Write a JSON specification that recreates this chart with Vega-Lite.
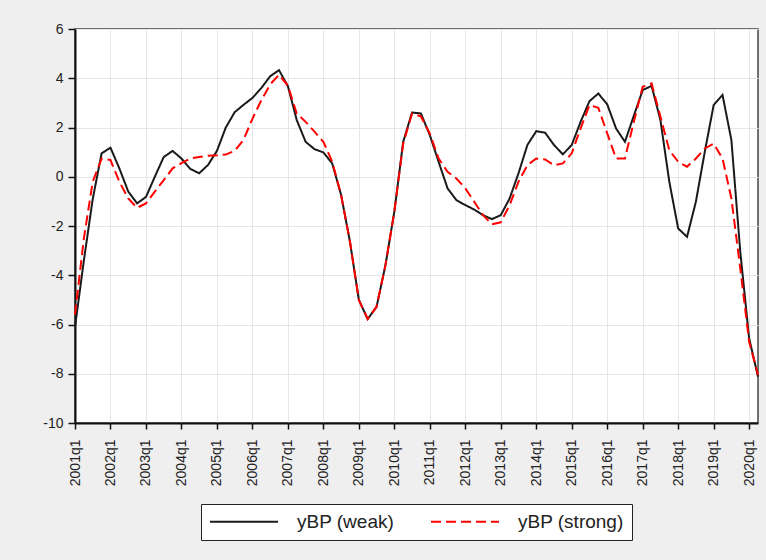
{
  "$schema": "https://vega.github.io/schema/vega-lite/v6.json",
  "width": 683,
  "height": 394,
  "autosize": {"type": "none"},
  "padding": {"left": 75, "top": 29, "right": 8, "bottom": 137},
  "background": "#efefef",
  "data": {
    "values": [
      {"q": "2001q1", "weak": -6.1, "strong": -5.6},
      {"q": "2001q2", "weak": -3.4, "strong": -2.5},
      {"q": "2001q3", "weak": -0.9, "strong": -0.2},
      {"q": "2001q4", "weak": 0.95, "strong": 0.74},
      {"q": "2002q1", "weak": 1.18, "strong": 0.68},
      {"q": "2002q2", "weak": 0.34, "strong": -0.2},
      {"q": "2002q3", "weak": -0.6, "strong": -0.88},
      {"q": "2002q4", "weak": -1.08, "strong": -1.26},
      {"q": "2003q1", "weak": -0.82, "strong": -1.08},
      {"q": "2003q2", "weak": 0.0, "strong": -0.6},
      {"q": "2003q3", "weak": 0.8, "strong": -0.14},
      {"q": "2003q4", "weak": 1.05, "strong": 0.34},
      {"q": "2004q1", "weak": 0.74, "strong": 0.55},
      {"q": "2004q2", "weak": 0.32, "strong": 0.74},
      {"q": "2004q3", "weak": 0.14, "strong": 0.8},
      {"q": "2004q4", "weak": 0.48, "strong": 0.85},
      {"q": "2005q1", "weak": 1.05, "strong": 0.87},
      {"q": "2005q2", "weak": 2.0, "strong": 0.9},
      {"q": "2005q3", "weak": 2.62, "strong": 1.05},
      {"q": "2005q4", "weak": 2.92, "strong": 1.5},
      {"q": "2006q1", "weak": 3.2, "strong": 2.35},
      {"q": "2006q2", "weak": 3.6, "strong": 3.1},
      {"q": "2006q3", "weak": 4.08, "strong": 3.75},
      {"q": "2006q4", "weak": 4.33, "strong": 4.14},
      {"q": "2007q1", "weak": 3.68, "strong": 3.7},
      {"q": "2007q2", "weak": 2.3, "strong": 2.57},
      {"q": "2007q3", "weak": 1.42, "strong": 2.23},
      {"q": "2007q4", "weak": 1.12, "strong": 1.83},
      {"q": "2008q1", "weak": 0.99, "strong": 1.42},
      {"q": "2008q2", "weak": 0.54, "strong": 0.61},
      {"q": "2008q3", "weak": -0.74, "strong": -0.74},
      {"q": "2008q4", "weak": -2.64, "strong": -2.64},
      {"q": "2009q1", "weak": -5.0, "strong": -5.0},
      {"q": "2009q2", "weak": -5.78, "strong": -5.78},
      {"q": "2009q3", "weak": -5.28, "strong": -5.28},
      {"q": "2009q4", "weak": -3.59, "strong": -3.59},
      {"q": "2010q1", "weak": -1.42, "strong": -1.42},
      {"q": "2010q2", "weak": 1.42, "strong": 1.35},
      {"q": "2010q3", "weak": 2.61, "strong": 2.57},
      {"q": "2010q4", "weak": 2.57, "strong": 2.45},
      {"q": "2011q1", "weak": 1.69, "strong": 1.75},
      {"q": "2011q2", "weak": 0.6, "strong": 0.74},
      {"q": "2011q3", "weak": -0.47, "strong": 0.2},
      {"q": "2011q4", "weak": -0.95, "strong": -0.07},
      {"q": "2012q1", "weak": -1.15, "strong": -0.47},
      {"q": "2012q2", "weak": -1.33, "strong": -1.01},
      {"q": "2012q3", "weak": -1.56, "strong": -1.56},
      {"q": "2012q4", "weak": -1.72, "strong": -1.93},
      {"q": "2013q1", "weak": -1.56, "strong": -1.85},
      {"q": "2013q2", "weak": -0.88, "strong": -1.15},
      {"q": "2013q3", "weak": 0.14, "strong": -0.2},
      {"q": "2013q4", "weak": 1.29, "strong": 0.47},
      {"q": "2014q1", "weak": 1.85, "strong": 0.74},
      {"q": "2014q2", "weak": 1.79, "strong": 0.7},
      {"q": "2014q3", "weak": 1.29, "strong": 0.47},
      {"q": "2014q4", "weak": 0.91, "strong": 0.54},
      {"q": "2015q1", "weak": 1.29, "strong": 0.95},
      {"q": "2015q2", "weak": 2.23, "strong": 1.96},
      {"q": "2015q3", "weak": 3.07, "strong": 2.91},
      {"q": "2015q4", "weak": 3.38, "strong": 2.8},
      {"q": "2016q1", "weak": 2.94, "strong": 1.76},
      {"q": "2016q2", "weak": 1.96, "strong": 0.74},
      {"q": "2016q3", "weak": 1.42, "strong": 0.74},
      {"q": "2016q4", "weak": 2.48, "strong": 2.23},
      {"q": "2017q1", "weak": 3.52, "strong": 3.65},
      {"q": "2017q2", "weak": 3.69, "strong": 3.79},
      {"q": "2017q3", "weak": 2.3, "strong": 2.44},
      {"q": "2017q4", "weak": -0.2, "strong": 1.08},
      {"q": "2018q1", "weak": -2.1, "strong": 0.61},
      {"q": "2018q2", "weak": -2.44, "strong": 0.41},
      {"q": "2018q3", "weak": -1.01, "strong": 0.74},
      {"q": "2018q4", "weak": 1.01, "strong": 1.15},
      {"q": "2019q1", "weak": 2.91, "strong": 1.35},
      {"q": "2019q2", "weak": 3.32, "strong": 0.74},
      {"q": "2019q3", "weak": 1.49, "strong": -0.88},
      {"q": "2019q4", "weak": -3.04, "strong": -3.72},
      {"q": "2020q1", "weak": -6.56, "strong": -6.7},
      {"q": "2020q2", "weak": -8.12, "strong": -8.05}
    ]
  },
  "transform": [{"fold": ["weak", "strong"], "as": ["series", "value"]}],
  "mark": {"type": "line", "strokeWidth": 2},
  "encoding": {
    "x": {
      "field": "q",
      "type": "ordinal",
      "sort": null,
      "scale": {"type": "point", "padding": 0},
      "axis": {
        "title": null,
        "values": ["2001q1", "2002q1", "2003q1", "2004q1", "2005q1", "2006q1", "2007q1", "2008q1", "2009q1", "2010q1", "2011q1", "2012q1", "2013q1", "2014q1", "2015q1", "2016q1", "2017q1", "2018q1", "2019q1", "2020q1"],
        "labelAngle": -90,
        "grid": true,
        "tickSize": 6,
        "labelPadding": 10
      }
    },
    "y": {
      "field": "value",
      "type": "quantitative",
      "scale": {"domain": [-10, 6], "nice": false, "zero": false},
      "axis": {
        "title": null,
        "values": [-10, -8, -6, -4, -2, 0, 2, 4, 6],
        "labelExpr": "'' + datum.value",
        "grid": true,
        "tickSize": 7,
        "labelPadding": 5
      }
    },
    "color": {
      "field": "series",
      "type": "nominal",
      "scale": {"domain": ["weak", "strong"], "range": ["#1a1a1a", "#ff0000"]},
      "legend": {
        "title": null,
        "orient": "bottom",
        "direction": "horizontal",
        "labelExpr": "'yBP (' + datum.label + ')'",
        "symbolType": "M-4,0H4",
        "symbolSize": 289,
        "symbolOffset": 25.5,
        "symbolStrokeWidth": 2,
        "labelFontSize": 19,
        "labelOffset": 43.5,
        "columnPadding": 32,
        "padding": 8,
        "offset": 18,
        "fillColor": "white",
        "strokeColor": "#222"
      }
    },
    "strokeDash": {
      "field": "series",
      "type": "nominal",
      "scale": {"domain": ["weak", "strong"], "range": [[1, 0], [10, 5]]},
      "legend": {
        "title": null,
        "orient": "bottom",
        "direction": "horizontal",
        "labelExpr": "'yBP (' + datum.label + ')'",
        "symbolType": "M-4,0H4",
        "symbolSize": 289,
        "symbolOffset": 25.5,
        "symbolStrokeWidth": 2,
        "labelFontSize": 19,
        "labelOffset": 43.5,
        "columnPadding": 32,
        "padding": 8,
        "offset": 18,
        "fillColor": "white",
        "strokeColor": "#222"
      }
    }
  },
  "config": {
    "font": "Liberation Sans",
    "view": {"stroke": "#444", "strokeWidth": 1.5, "fill": "white"},
    "axis": {
      "gridColor": "#e6e6e6",
      "gridWidth": 1,
      "domainColor": "#111",
      "domainWidth": 2,
      "tickColor": "#111",
      "tickWidth": 1.5,
      "labelFont": "Liberation Sans",
      "labelFontSize": 14,
      "labelColor": "#222"
    },
    "legend": {
      "labelFont": "Liberation Sans",
      "labelColor": "#222",
      "layout": {"bottom": {"anchor": "middle"}}
    }
  }
}
